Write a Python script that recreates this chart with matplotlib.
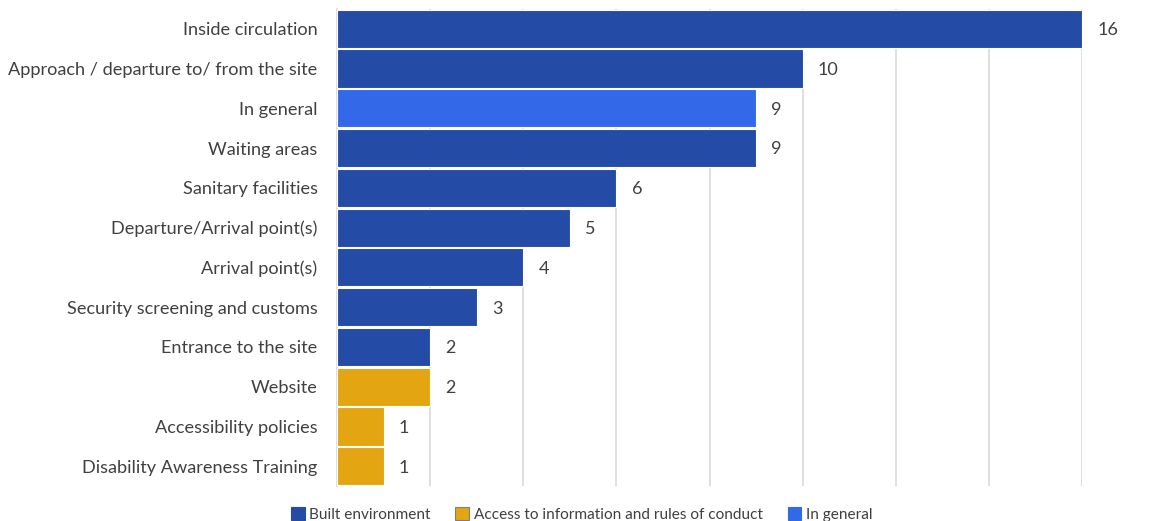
import matplotlib.pyplot as plt
from matplotlib.patches import Patch

categories = ["Inside circulation", "Approach / departure to/ from the site", "In general",
              "Waiting areas", "Sanitary facilities", "Departure/Arrival point(s)",
              "Arrival point(s)", "Security screening and customs", "Entrance to the site",
              "Website", "Accessibility policies", "Disability Awareness Training"]
values = [16, 10, 9, 9, 6, 5, 4, 3, 2, 2, 1, 1]
groups = ["Built environment", "Built environment", "In general",
          "Built environment", "Built environment", "Built environment",
          "Built environment", "Built environment", "Built environment",
          "Access to information and rules of conduct",
          "Access to information and rules of conduct",
          "Access to information and rules of conduct"]
legend_order = ["Built environment", "Access to information and rules of conduct", "In general"]

COLORS = {"Built environment": "#244BA5",
          "Access to information and rules of conduct": "#E3A612",
          "In general": "#3368E8"}
TEXT = "#404040"
plt.rcParams["font.family"] = ["Lato", "DejaVu Sans"]

fig = plt.figure(figsize=(11.68, 5.21), dpi=100)
ax = fig.add_axes([0.2885, 0.067, 0.9264 - 0.2885, 0.916])

y = range(len(categories))
ax.barh(y, values, height=0.96, color=[COLORS[g] for g in groups],
        edgecolor="white", linewidth=0.8, zorder=3)
for yi, v in zip(y, values):
    ax.annotate(str(v), (v, yi), xytext=(11, -1), textcoords="offset points",
                va="center", ha="left", fontsize=13, color=TEXT)

ax.set_xlim(0, 16)
ax.set_ylim(len(categories) - 0.5, -0.5)
ax.set_xticks(range(0, 17, 2))
ax.set_xticklabels([])
ax.tick_params(axis="x", length=0)
ax.tick_params(axis="y", length=0, pad=14)
ax.set_yticks(list(y))
ax.set_yticklabels(categories, fontsize=13.1, color=TEXT)
for lbl in ax.get_yticklabels():
    lbl.set_y(lbl.get_position()[1])
ax.grid(axis="x", color="#D9D9D9", linewidth=1.2, zorder=0)
for s in ["top", "right", "bottom"]:
    ax.spines[s].set_visible(False)
ax.spines["left"].set_color("#D9D9D9")
ax.spines["left"].set_linewidth(1.2)

handles = [Patch(facecolor=COLORS[g], edgecolor="#7f7f7f" if g.startswith("Access") else COLORS[g],
                 linewidth=0.8) for g in legend_order]
fig.legend(handles, legend_order, loc="center", bbox_to_anchor=(0.498, 0.013), ncol=3,
           frameon=False, fontsize=11.1, handlelength=0.9, handleheight=0.9,
           handletextpad=0.3, columnspacing=1.6, labelcolor=TEXT)

fig.savefig("out.png", dpi=100)
